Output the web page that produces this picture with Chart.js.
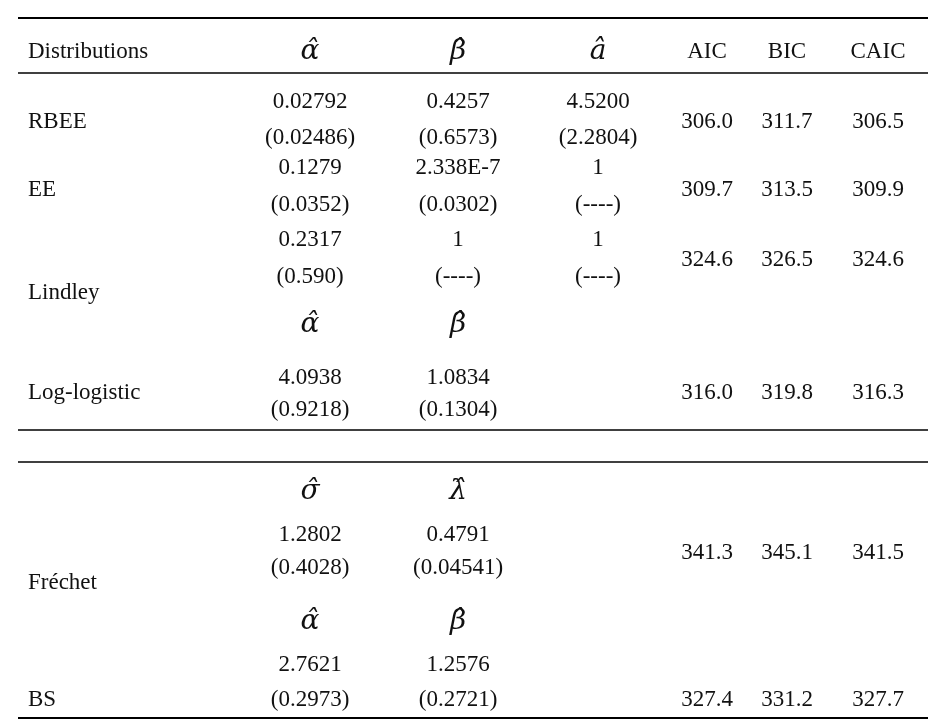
<!DOCTYPE html>
<html><head><meta charset="utf-8">
<script src="https://cdn.jsdelivr.net/npm/chart.js@4"></script>
<style>html,body{margin:0;background:#fff}#wrap{width:951px;height:725px}</style>
</head><body><div id="wrap"><canvas id="c"></canvas></div>
<script>
const columns = ["Distributions", "α̂", "β̂", "â", "AIC", "BIC", "CAIC"];
const colX = [28, 310, 458, 598, 707, 787, 878];
const distributions = ["RBEE", "EE", "Lindley", "Log-logistic", "Fréchet", "BS"];
const estimates = [
  ["0.02792", "0.4257", "4.5200"],
  ["0.1279", "2.338E-7", "1"],
  ["0.2317", "1", "1"],
  ["4.0938", "1.0834"],
  ["1.2802", "0.4791"],
  ["2.7621", "1.2576"],
];
const stdErrors = [
  ["(0.02486)", "(0.6573)", "(2.2804)"],
  ["(0.0352)", "(0.0302)", "(----)"],
  ["(0.590)", "(----)", "(----)"],
  ["(0.9218)", "(0.1304)"],
  ["(0.4028)", "(0.04541)"],
  ["(0.2973)", "(0.2721)"],
];
const aic = ["306.0", "309.7", "324.6", "316.0", "341.3", "327.4"];
const bic = ["311.7", "313.5", "326.5", "319.8", "345.1", "331.2"];
const caic = ["306.5", "309.9", "324.6", "316.3", "341.5", "327.7"];
// row positions (y in chart units): estimate, std error, label, criteria
const rowEst = [102, 168, 240, 378, 535, 665];
const rowSe = [138, 205, 277, 410, 568, 700];
const rowLabel = [122, 190, 293, 393, 583, 700];
const rowCrit = [122, 190, 260, 393, 553, 700];
const subHeaders = [[325, "α̂", "β̂"], [492, "σ̂", "λ̂"], [622, "α̂", "β̂"]];
const hlines = [[18, 2], [73, 1.5], [430, 1.5], [462, 1.5], [718, 2]];

const cells = [];
columns.forEach((t, i) => cells.push({ x: colX[i], y: 52, t, hat: i >= 1 && i <= 3, left: i === 0 }));
distributions.forEach((d, r) => {
  cells.push({ x: colX[0], y: rowLabel[r], t: d, left: true });
  estimates[r].forEach((v, j) => cells.push({ x: colX[j + 1], y: rowEst[r], t: v }));
  stdErrors[r].forEach((v, j) => cells.push({ x: colX[j + 1], y: rowSe[r], t: v }));
  cells.push({ x: colX[4], y: rowCrit[r], t: aic[r] });
  cells.push({ x: colX[5], y: rowCrit[r], t: bic[r] });
  cells.push({ x: colX[6], y: rowCrit[r], t: caic[r] });
});
subHeaders.forEach(([y, a, b]) => {
  cells.push({ x: colX[1], y, t: a, hat: true });
  cells.push({ x: colX[2], y, t: b, hat: true });
});

const tablePlugin = {
  id: "table",
  afterDatasetsDraw(chart) {
    const { ctx, scales: { x, y } } = chart;
    ctx.save();
    ctx.strokeStyle = "#000";
    hlines.forEach(([yy, w]) => {
      ctx.lineWidth = w;
      ctx.beginPath();
      ctx.moveTo(x.getPixelForValue(18), y.getPixelForValue(yy));
      ctx.lineTo(x.getPixelForValue(928), y.getPixelForValue(yy));
      ctx.stroke();
    });
    ctx.fillStyle = "#111";
    ctx.textBaseline = "middle";
    cells.forEach(c => {
      ctx.font = c.hat ? "italic 28px 'DejaVu Serif'" : "23px 'Liberation Serif'";
      ctx.textAlign = c.left ? "left" : "center";
      ctx.fillText(c.t, x.getPixelForValue(c.x), y.getPixelForValue(c.y));
    });
    ctx.restore();
  }
};

new Chart(document.getElementById("c"), {
  type: "scatter",
  data: { datasets: [{ data: cells.map(c => ({ x: c.x, y: c.y })), pointRadius: 0 }] },
  options: {
    animation: false, responsive: true, maintainAspectRatio: false,
    layout: { padding: 0 },
    plugins: { legend: { display: false }, tooltip: { enabled: false } },
    scales: {
      x: { type: "linear", min: 0, max: 951, display: false },
      y: { type: "linear", min: 0, max: 725, reverse: true, display: false }
    }
  },
  plugins: [tablePlugin]
});
</script></body></html>
